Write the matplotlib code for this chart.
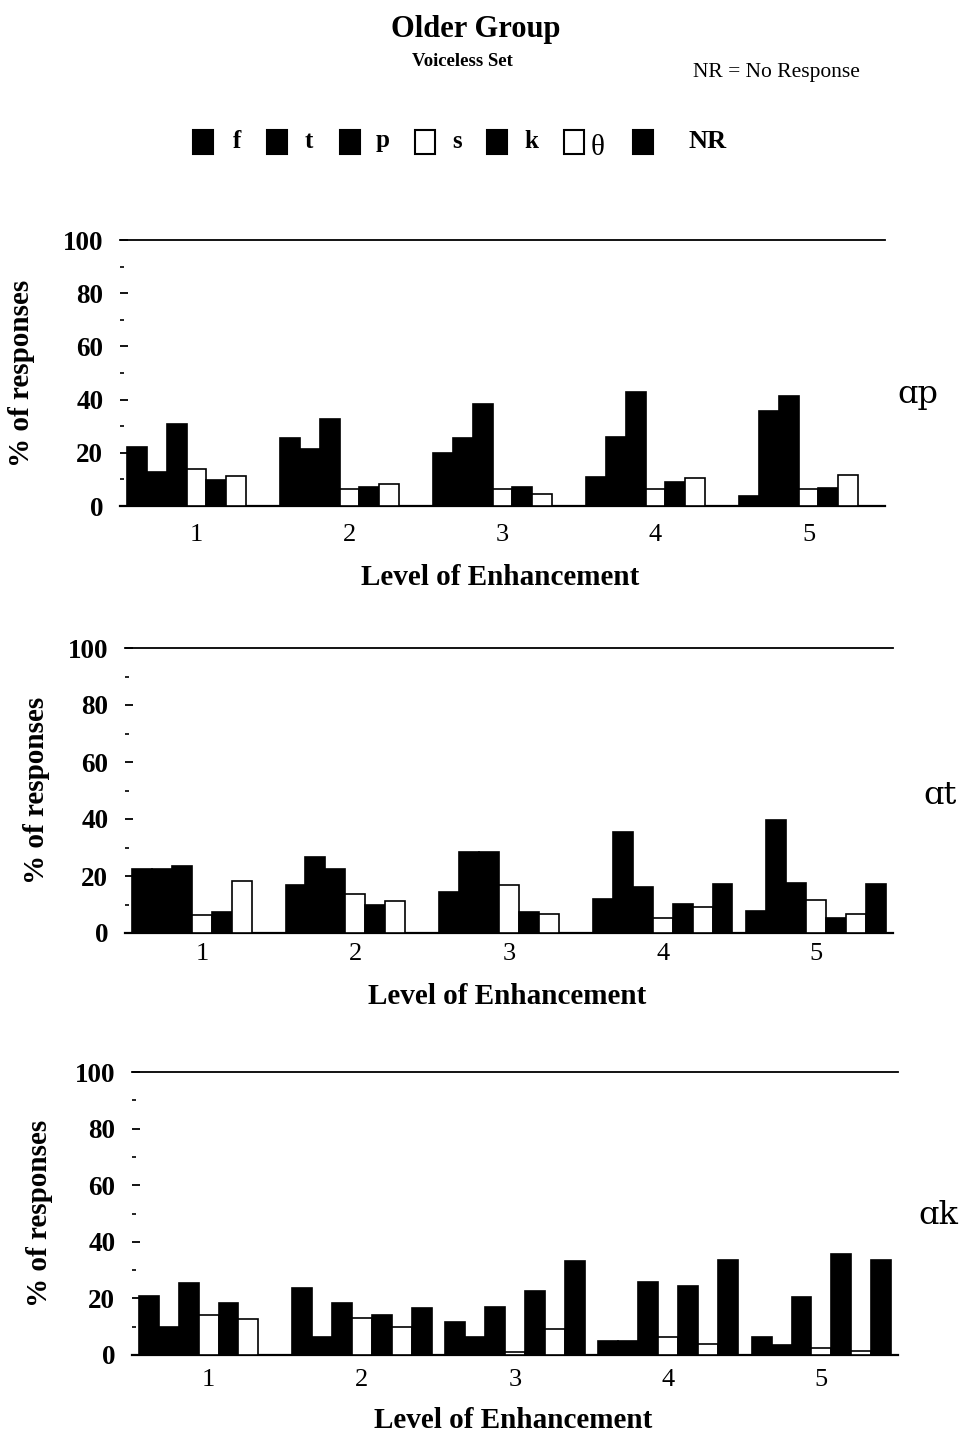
'''
    Older group, voiceless set: % of responses per level of enhancement
'''
import matplotlib
matplotlib.use('Agg')
from matplotlib import pyplot as plt
from matplotlib.patches import Rectangle
import numpy as np

levels   = [1, 2, 3, 4, 5]
phonemes = ['f', 't', 'p', 's', 'k', 'θ', 'NR']
bar_cols = ['k', 'k', 'k', 'w', 'k', 'w', 'k']

# rows = level of enhancement, columns = f t p s k θ NR
ap_vals = [[22.2, 12.8, 30.8, 14.0,  9.9, 11.1,  0.0],
           [25.5, 21.3, 32.6,  6.3,  7.1,  8.4,  0.0],
           [20.0, 25.7, 38.3,  6.3,  7.3,  4.6,  0.0],
           [10.8, 26.0, 42.8,  6.3,  9.1, 10.5,  0.0],
           [ 3.7, 35.9, 41.3,  6.3,  6.8, 11.8,  0.0]]

at_vals = [[22.3, 22.5, 23.5,  6.2,  7.4, 18.3,  0.0],
           [17.0, 26.7, 22.5, 13.8, 10.0, 11.4,  0.0],
           [14.3, 28.4, 28.4, 17.0,  7.4,  6.8,  0.0],
           [12.1, 35.5, 16.0,  5.1, 10.3,  9.1, 17.1],
           [ 7.7, 39.6, 17.6, 11.5,  5.4,  6.5, 17.1]]

ak_vals = [[20.9, 10.0, 25.3, 14.1, 18.2, 12.7,  0.0],
           [23.8,  6.2, 18.5, 13.0, 14.1, 10.0, 16.7],
           [11.5,  6.2, 17.1,  1.0, 22.7,  9.1, 33.3],
           [ 4.9,  4.9, 25.9,  6.5, 24.4,  3.8, 33.5],
           [ 6.5,  3.5, 20.4,  2.4, 35.7,  1.5, 33.5]]

panel_names = ['ɑp', 'ɑt', 'ɑk']
panel_data  = [ap_vals, at_vals, ak_vals]

W, H  = 970, 1435
SERIF = 'Liberation Serif'

# panel geometry in pixels: left, top (100), right, bottom (0)
AX_BOX    = [(120, 240, 885, 506), (125, 648, 893, 933), (132, 1072, 898, 1355)]
XLAB_Y    = [577, 996, 1420]
YLAB_X    = [22, 37, 40]
TICK_PAD  = [13, 7, 10]
NAME_POS  = [(918, 395), (940, 795), (938, 1215)]

def fx(px):
    return px / W

def fy(py):
    return 1.0 - py / H


def main():
    fig = plt.figure(figsize=(W/100, H/100), dpi=100)

    # Titles
    #----------------------------------------------------
    fig.text(fx(476), fy(30), 'Older Group', family=SERIF, weight='bold',
             fontsize=22, ha='center', va='center')
    fig.text(fx(462), fy(62), 'Voiceless Set', family=SERIF, weight='bold',
             fontsize=13.5, ha='center', va='center')
    fig.text(fx(776), fy(72), 'NR = No Response', family=SERIF,
             fontsize=15.5, ha='center', va='center')

    # Legend row
    #----------------------------------------------------
    sq_x  = [203, 277, 350, 425, 497, 574, 643]
    lab_x = [237, 309, 383, 457, 531, 598, 708]
    for i, name in enumerate(phonemes):
        fig.patches.append(Rectangle((fx(sq_x[i]-10), fy(154)), fx(20), 24/H,
                                     transform=fig.transFigure, facecolor=bar_cols[i],
                                     edgecolor='k', linewidth=1.5))
        if name == 'θ':
            fig.text(fx(lab_x[i]), fy(148), name, family=SERIF, fontsize=21,
                     ha='center', va='center')
        else:
            fig.text(fx(lab_x[i]), fy(141), name, family=SERIF, weight='bold',
                     fontsize=18 if name != 'NR' else 19, ha='center', va='center')

    # Panels
    #----------------------------------------------------
    n_bars = len(phonemes)
    bw     = 0.13
    x      = np.array(levels, dtype=float)

    for p, vals in enumerate(panel_data):
        vals = np.array(vals)
        l, t, r, b = AX_BOX[p]
        ax = fig.add_axes([fx(l), fy(b), fx(r - l), (b - t)/H])

        for i in range(n_bars):
            ax.bar(x + (i - (n_bars-1)/2.0)*bw, vals[:, i], width=bw,
                   color=bar_cols[i], edgecolor='k', linewidth=1.2, zorder=3)

        ax.set_xlim(0.5, 5.5)
        ax.set_ylim(0, 100)
        ax.spines['left'].set_visible(False)
        ax.spines['right'].set_visible(False)
        ax.spines['top'].set_linewidth(1.3)
        ax.spines['bottom'].set_linewidth(1.6)

        ax.set_yticks(range(0, 101, 20))
        ax.set_yticks(range(10, 100, 20), minor=True)
        ax.set_yticklabels([str(v) for v in range(0, 101, 20)],
                           family=SERIF, weight='bold', fontsize=19.5)
        ax.tick_params(axis='y', which='major', direction='in', length=6,
                       width=1.3, pad=12)
        ax.tick_params(axis='y', which='minor', direction='in', length=3, width=1.2)

        ax.set_xticks(levels)
        ax.set_xticklabels([str(v) for v in levels], family=SERIF, fontsize=19)
        ax.tick_params(axis='x', length=0, pad=TICK_PAD[p])

        fig.text(fx((l + r)/2.0 - 2), fy(XLAB_Y[p]), 'Level of Enhancement',
                 family=SERIF, weight='bold', fontsize=21, ha='center', va='center')
        fig.text(fx(YLAB_X[p]), fy((t + b)/2.0), '% of responses', family=SERIF,
                 weight='bold', fontsize=21, rotation=90, ha='center', va='center')
        fig.text(fx(NAME_POS[p][0]), fy(NAME_POS[p][1]), panel_names[p],
                 family='DejaVu Serif', fontsize=23, ha='center', va='center')

    fig.savefig('out.png', dpi=100)
    plt.close(fig)


if __name__ == '__main__': main()
